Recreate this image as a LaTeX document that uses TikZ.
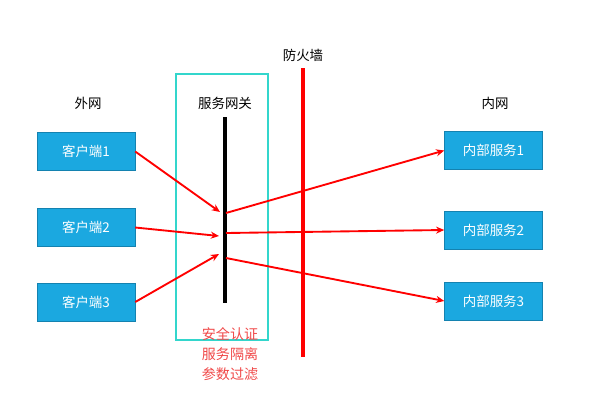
\documentclass[tikz,border=0pt]{standalone}
\usepackage{fontspec}
\setmainfont{Noto Sans CJK SC}
\usetikzlibrary{arrows.meta}
\definecolor{boxblue}{HTML}{1BA8E0}
\definecolor{boxedge}{HTML}{1482B0}
\definecolor{gcyan}{HTML}{33D6CC}
\definecolor{rtext}{HTML}{F04848}
\begin{document}
\begin{tikzpicture}[x=0.03cm,y=-0.03cm,
  svc/.style={draw=boxedge,fill=boxblue,text=white,minimum width=2.94cm,minimum height=1.14cm,inner sep=0pt,font=\fontsize{11.5}{13}\selectfont},
  lbl/.style={font=\fontsize{11.5}{13}\selectfont},
  conn/.style={draw=red,line width=1.6pt,-{Stealth[length=7pt,width=6pt]}}]
\useasboundingbox (0,0) rectangle (611,407);
\node[lbl] (wai) at (88,103) {外网};
\node[lbl] (gw) at (225,103) {服务网关};
\node[lbl] (fw) at (303,55) {防火墙};
\node[lbl] (nei) at (495,103) {内网};
\node[svc] (c1) at (86,151.5) {客户端1};
\node[svc] (c2) at (86,227.5) {客户端2};
\node[svc] (c3) at (86,302) {客户端3};
\node[svc] (s1) at (493.5,150.5) {内部服务1};
\node[svc] (s2) at (493.5,230) {内部服务2};
\node[svc] (s3) at (493.5,301) {内部服务3};
\draw[gcyan,line width=1.8pt] (176,74) rectangle (268,340);
\coordinate (bt) at (225,117); \coordinate (bb) at (225,303);
\draw[black,line width=4pt] (bt) -- (bb);
\coordinate (ft) at (303,68); \coordinate (fb) at (303,357);
\draw[red,line width=4pt] (ft) -- (fb);
\coordinate (i1) at (220,212); \coordinate (i2) at (219,236); \coordinate (i3) at (219,254);
\coordinate (o1) at (226,213); \coordinate (o2) at (226,233); \coordinate (o3) at (226,258);
\draw[conn] (c1.east) -- (i1);
\draw[conn] (c2.east) -- (i2);
\draw[conn] (c3.east) -- (i3);
\draw[conn] (o1) -- (s1.west);
\draw[conn] (o2) -- (s2.west);
\draw[conn] (o3) -- (s3.west);
\node[lbl,text=rtext,align=center,font=\fontsize{12}{17}\selectfont] (notes) at (230,354) {安全认证\\服务隔离\\参数过滤};
\end{tikzpicture}
\end{document}
